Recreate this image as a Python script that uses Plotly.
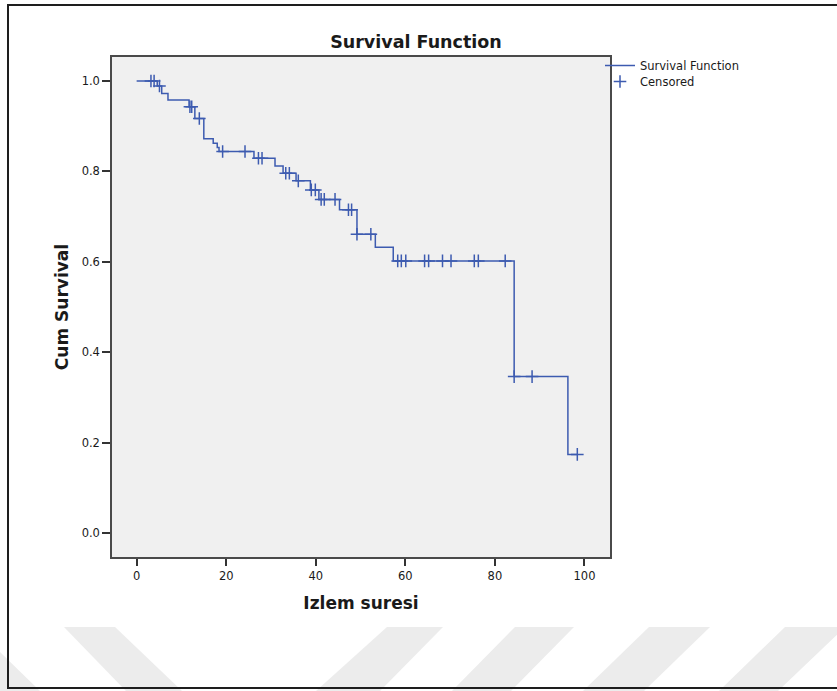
import numpy as np
import plotly.graph_objects as go

# ---- data ----
event_times = [0, 4.6, 5.6, 7.0, 11.7, 13.0, 15.0, 17.1, 18.0, 18.4, 26.2, 30.9, 32.7,
               35.6, 38.8, 40.7, 45.3, 49.2, 53.3, 57.3, 84.3, 96.3, 98.4]
survival = [1.0, 0.989, 0.972, 0.958, 0.943, 0.917, 0.872, 0.862, 0.853, 0.844, 0.829, 0.812,
            0.796, 0.779, 0.759, 0.738, 0.715, 0.661, 0.632, 0.602, 0.346, 0.174, 0.174]
censor_times = [3.2, 3.9, 5.1, 11.9, 12.3, 14.0, 19.2, 24.2, 27.2, 28.0, 33.3, 34.1, 36.1,
                39.0, 39.9, 41.2, 41.9, 44.3, 47.3, 48.0, 49.2, 52.3, 58.3, 59.1, 60.1,
                64.3, 65.2, 68.3, 70.2, 75.4, 76.3, 82.3, 84.3, 88.3, 98.4]
x_ticks = [0, 20, 40, 60, 80, 100]
y_ticks = [0.0, 0.2, 0.4, 0.6, 0.8, 1.0]

# survival level at each censored time (lookup in the step function)
et = np.array(event_times)
sv = np.array(survival)
censor_surv = [float(sv[np.searchsorted(et, t, side="right") - 1]) for t in censor_times]

BLUE = "#3d5bb0"

fig = go.Figure()
fig.add_trace(go.Scatter(
    x=event_times, y=survival, mode="lines", line=dict(shape="hv", color=BLUE, width=1.5),
    name="Survival Function", hoverinfo="skip", legend="legend"))
fig.add_trace(go.Scatter(
    x=censor_times, y=censor_surv, mode="markers",
    marker=dict(symbol="cross-thin", size=9, line=dict(color=BLUE, width=1.5), color=BLUE),
    name="Censored", hoverinfo="skip", legend="legend2"))

# ---- layout geometry (pixels) ----
W, H = 837, 691
L, R, T, B = 112, 610, 57, 557
pw, ph = R - L, B - T


def px(x):
    return (x - L) / pw


def py(y):
    return (B - y) / ph


shapes = []
# light watermark stripes
stripes = [
    [(64, 627), (115, 627), (182, 691), (126, 691)],
    [(0, 652), (0, 691), (40, 691)],
    [(387, 627), (443, 627), (380, 691), (316, 691)],
    [(515, 627), (574, 627), (511, 691), (452, 691)],
    [(649, 627), (710, 627), (644, 691), (583, 691)],
    [(785, 627), (845, 627), (778, 691), (719, 691)],
]
for poly in stripes:
    path = "M " + " L ".join(f"{px(a):.5f},{py(b):.5f}" for a, b in poly) + " Z"
    shapes.append(dict(type="path", path=path, xref="paper", yref="paper",
                       fillcolor="#ececec", line=dict(width=0), layer="below"))
# outer frame
shapes.append(dict(type="rect", xref="paper", yref="paper",
                   x0=px(8), x1=px(860), y0=py(688), y1=py(5),
                   line=dict(color="#1e1e1e", width=2), fillcolor="rgba(0,0,0,0)", layer="above"))

legend_common = dict(xanchor="left", yanchor="top", bgcolor="rgba(0,0,0,0)",
                     font=dict(size=11.5, family="DejaVu Sans", color="#1a1a1a"),
                     itemwidth=30, tracegroupgap=0)

fig.update_layout(
    width=W, height=H,
    margin=dict(l=L, r=W - R, t=T, b=H - B, pad=0),
    paper_bgcolor="white", plot_bgcolor="#f0f0f0",
    font=dict(family="DejaVu Sans", color="#1a1a1a", size=12),
    title=dict(text="<b>Survival Function</b>", x=0.497, xref="container", xanchor="center",
               y=1 - 42 / H, yref="container", yanchor="middle",
               font=dict(size=17.5, family="DejaVu Sans", color="#1a1a1a")),
    showlegend=True,
    legend=dict(x=px(600), y=py(51), **legend_common),
    legend2=dict(x=px(600), y=py(67), **legend_common),
    shapes=shapes,
)
fig.update_xaxes(
    range=[-5.5, 105.7], tickvals=x_ticks, ticktext=[str(v) for v in x_ticks],
    showgrid=False, zeroline=False, showline=True, mirror=True,
    linecolor="#4a4a4a", linewidth=1.5, ticks="outside", ticklen=7, tickwidth=1.5,
    tickcolor="#333", tickfont=dict(size=11.5),
    title=dict(text="<b>Izlem suresi</b>", font=dict(size=17), standoff=16))
fig.update_yaxes(
    range=[-0.053, 1.053], tickvals=y_ticks, ticktext=[f"{v:.1f}" for v in y_ticks],
    showgrid=False, zeroline=False, showline=True, mirror=True,
    linecolor="#4a4a4a", linewidth=1.5, ticks="outside", ticklen=8, tickwidth=1.5,
    tickcolor="#333", tickfont=dict(size=11.5),
    title=dict(text="<b>Cum Survival</b>", font=dict(size=17), standoff=9))

fig.write_html("out.html")
